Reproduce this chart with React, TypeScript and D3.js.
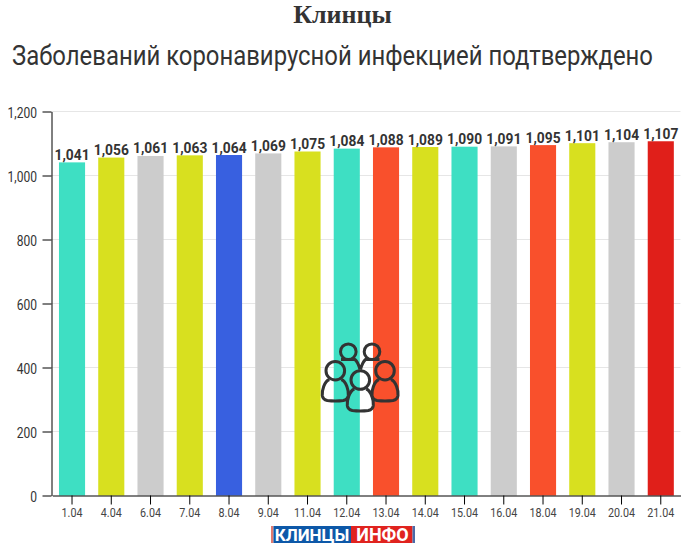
import { useEffect, useRef } from "react";
import * as d3 from "d3";

const dates = ["1.04", "4.04", "6.04", "7.04", "8.04", "9.04", "11.04", "12.04", "13.04", "14.04", "15.04", "16.04", "18.04", "19.04", "20.04", "21.04"];
const cases = [1041, 1056, 1061, 1063, 1064, 1069, 1075, 1084, 1088, 1089, 1090, 1091, 1095, 1101, 1104, 1107];
const barColors = ["#3edfc3", "#d8e01f", "#cccccc", "#d8e01f", "#3860e0", "#cccccc", "#d8e01f", "#3edfc3", "#f9502c", "#d8e01f", "#3edfc3", "#cccccc", "#f9502c", "#d8e01f", "#cccccc", "#e01f1a"];
const yTicks = [0, 200, 400, 600, 800, 1000, 1200];

const width = 697;
const height = 550;
const margin = { top: 111.5, right: 16.5, bottom: 54.5, left: 51.5 };
const narrow = 0.86; // no Roboto Condensed here, so squeeze Roboto

export default function App() {
  const svgRef = useRef<SVGSVGElement | null>(null);

  useEffect(() => {
    if (!svgRef.current) return;
    const svg = d3.select(svgRef.current);
    svg.selectAll("*").remove();

    const x = d3.scaleBand().domain(dates).range([margin.left + 0.8, width - margin.right]).paddingInner(0.335).paddingOuter(0.17);
    const y = d3.scaleLinear().domain([0, 1200]).range([height - margin.bottom, margin.top]);

    // Titles
    svg.append("text")
      .attr("x", 342.5)
      .attr("y", 22.5)
      .attr("text-anchor", "middle")
      .attr("font-family", "'Liberation Serif', serif")
      .attr("font-weight", "bold")
      .attr("font-size", 26)
      .attr("fill", "#333")
      .text("Клинцы");
    svg.append("text")
      .attr("transform", `translate(12,64.5) scale(0.853,1)`)
      .attr("font-family", "Roboto")
      .attr("font-size", 28)
      .attr("fill", "#333")
      .text("Заболеваний коронавирусной инфекцией подтверждено");

    // Gridlines
    svg.append("g")
      .selectAll("line")
      .data(yTicks.slice(1))
      .join("line")
      .attr("x1", margin.left)
      .attr("x2", width - margin.right)
      .attr("y1", d => y(d))
      .attr("y2", d => y(d))
      .attr("stroke", "#e6e6e6");

    // Bars
    svg.append("g")
      .selectAll("rect")
      .data(dates)
      .join("rect")
      .attr("x", d => x(d) || 0)
      .attr("y", (_, i) => y(cases[i]))
      .attr("width", x.bandwidth())
      .attr("height", (_, i) => y(0) - y(cases[i]))
      .attr("fill", (_, i) => barColors[i]);

    // Value labels
    svg.append("g")
      .selectAll("text")
      .data(dates)
      .join("text")
      .attr("transform", (d, i) => `translate(${(x(d) || 0) + x.bandwidth() / 2},${y(cases[i]) - 2.5}) scale(0.92,1)`)
      .attr("text-anchor", "middle")
      .attr("font-family", "Roboto")
      .attr("font-weight", "bold")
      .attr("font-size", 15)
      .attr("fill", "#333")
      .text((_, i) => d3.format(",")(cases[i]));

    // Axes
    const yAxis = svg.append("g")
      .attr("transform", `translate(${margin.left},0)`)
      .call(d3.axisLeft(y).tickValues(yTicks).tickFormat(d3.format(",")).tickSize(9).tickSizeOuter(0));
    yAxis.selectAll("path, line").attr("stroke", "#000");
    yAxis.selectAll("text")
      .attr("font-family", "Roboto")
      .attr("font-size", 14)
      .attr("fill", "#333")
      .attr("x", -14.5 / narrow)
      .attr("dy", "0.45em")
      .attr("transform", `scale(${narrow},1)`);

    const xAxis = svg.append("g")
      .attr("transform", `translate(0,${height - margin.bottom})`)
      .call(d3.axisBottom(x).tickSize(9).tickSizeOuter(0));
    xAxis.selectAll("path, line").attr("stroke", "#000");
    xAxis.selectAll("text")
      .attr("font-family", "Roboto")
      .attr("font-size", 12.5)
      .attr("fill", "#444")
      .attr("y", 13)
      .attr("transform", `scale(${narrow},1)`);

    // People icon in the middle of the plot
    const icon = svg.append("g")
      .attr("fill", "none")
      .attr("stroke", "#333")
      .attr("stroke-width", 3)
      .attr("stroke-linejoin", "round");
    const heads = [[348.3, 351.7, 7.8], [372, 351.7, 7.8], [335.3, 370.7, 9.3], [385, 370.7, 9.3], [360.3, 380, 9.3]];
    icon.selectAll("circle")
      .data(heads)
      .join("circle")
      .attr("cx", d => d[0])
      .attr("cy", d => d[1])
      .attr("r", d => d[2]);
    const body = (cx: number, top: number, bottom: number) =>
      `M${cx - 6},${top} C${cx - 11},${top + 2} ${cx - 13.5},${bottom - 10} ${cx - 13},${bottom - 5} Q${cx - 12.5},${bottom - 1} ${cx - 8},${bottom} Q${cx},${bottom + 1} ${cx + 8},${bottom} Q${cx + 12.5},${bottom - 1} ${cx + 13},${bottom - 5} C${cx + 13.5},${bottom - 10} ${cx + 11},${top + 2} ${cx + 6},${top}`;
    icon.append("path").attr("d", body(335.3, 379.5, 400.5));
    icon.append("path").attr("d", body(385, 379.5, 400.5));
    icon.append("path").attr("d", body(360.3, 389, 410.5));
    icon.append("path").attr("d", "M341,359.5 L355,359.5 Q358,362 360,369.5 M379.5,359.5 L365.5,359.5 Q362.5,362 360.5,369.5");

    // Site logo
    const logo = svg.append("g");
    const logoRects: [number, number, string][] = [[271, 2.5, "#e07a70"], [273.5, 77.5, "#0d58a8"], [351, 61.5, "#e0231f"], [412.5, 2.5, "#4a6aa8"]];
    logo.selectAll("rect")
      .data(logoRects)
      .join("rect")
      .attr("x", d => d[0])
      .attr("y", 526)
      .attr("width", d => d[1])
      .attr("height", 17)
      .attr("fill", d => d[2]);
    logo.append("text")
      .attr("x", 312)
      .attr("y", 540.5)
      .attr("text-anchor", "middle")
      .attr("font-family", "Roboto")
      .attr("font-weight", "bold")
      .attr("font-size", 17)
      .attr("fill", "#fff")
      .text("КЛИНЦЫ");
    logo.append("text")
      .attr("x", 382.5)
      .attr("y", 540.5)
      .attr("text-anchor", "middle")
      .attr("font-family", "Roboto")
      .attr("font-weight", "bold")
      .attr("font-size", 18)
      .attr("fill", "#fff")
      .text("ИНФО");
  }, []);

  return <svg ref={svgRef} width={width} height={height} style={{ position: "absolute", left: 0, top: 0, background: "#fff" }} />;
}
